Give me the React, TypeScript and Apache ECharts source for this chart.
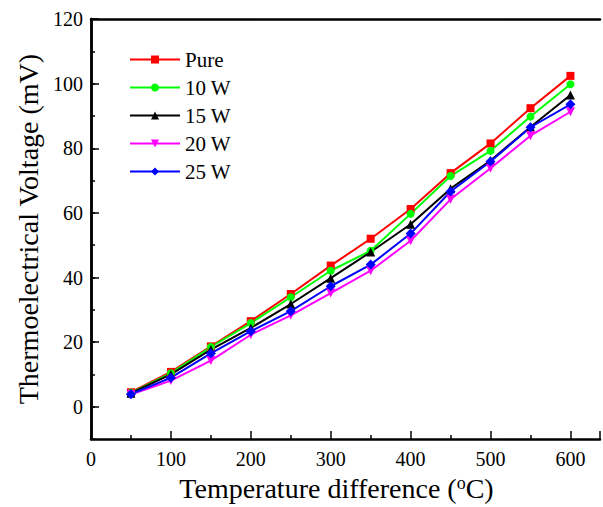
import React, { useEffect, useRef } from "react";
import * as echarts from "echarts";

const temps = [50, 100, 150, 200, 250, 300, 350, 400, 450, 500, 550, 600];
const pure = [4.5, 10.8, 18.7, 26.5, 34.9, 43.7, 52.0, 61.2, 72.3, 81.5, 92.4, 102.4];
const w10 = [4.3, 10.4, 18.5, 25.9, 33.9, 42.1, 48.3, 59.7, 71.4, 79.2, 89.8, 99.8];
const w15 = [4.2, 10.0, 17.7, 24.4, 31.8, 39.8, 47.9, 56.5, 67.5, 76.2, 86.6, 96.5];
const w20 = [3.8, 8.1, 14.3, 22.3, 28.3, 35.2, 42.1, 51.4, 64.2, 73.8, 83.9, 91.3];
const w25 = [3.9, 9.0, 16.5, 23.4, 29.6, 37.3, 44.0, 53.6, 66.6, 75.9, 86.5, 93.6];
const seriesNames = ["Pure", "10 W", "15 W", "20 W", "25 W"];
const yMajorTicks = [0, 20, 40, 60, 80, 100, 120];

const FONT = "'Liberation Serif', 'Times New Roman', serif";

export default function App() {
  const ref = useRef<HTMLDivElement>(null);
  useEffect(() => {
    document.body.style.margin = "0";
    const chart = echarts.init(ref.current!, null, { renderer: "svg" });
    const allData = [pure, w10, w15, w20, w25];
    const colors = ["#FF0000", "#00FF00", "#000000", "#FF00FF", "#0000FF"];
    const symbols = [
      "rect",
      "circle",
      "triangle",
      "path://M0,0 L10,0 L5,9 Z",
      "diamond",
    ];
    const sizes = [8, 8, 9, 9, 10];
    const series = allData.map((d, i) => ({
      name: seriesNames[i],
      type: "line",
      data: temps.map((t, j) => [t, d[j]]),
      symbol: symbols[i],
      symbolSize: sizes[i],
      lineStyle: { color: colors[i], width: 2 },
      itemStyle: { color: colors[i] },
      color: colors[i],
      xAxisIndex: 0,
      yAxisIndex: 0,
    }));
    const axisLineStyle = { color: "#000", width: 2.5 };
    chart.setOption({
      animation: false,
      backgroundColor: "#fff",
      textStyle: { fontFamily: FONT },
      grid: { left: 91, right: 0, top: 19, bottom: 66 },
      legend: {
        orient: "vertical",
        left: 124,
        top: 44,
        itemWidth: 50,
        itemHeight: 10,
        itemGap: 7,
        data: seriesNames,
        textStyle: { fontFamily: FONT, fontSize: 21, color: "#000" },
      },
      xAxis: [
        {
          type: "value",
          min: 0,
          max: 637,
          interval: 100,
          position: "bottom",
          name: "Temperature difference ({sup|o}C)",
          nameLocation: "middle",
          nameGap: 33,
          nameTextStyle: {
            fontFamily: FONT,
            fontSize: 28,
            color: "#000",
            padding: [0, 18, 0, 0],
            rich: {
              sup: {
                fontFamily: FONT,
                fontSize: 18,
                color: "#000",
                verticalAlign: "bottom",
                padding: [0, 0, 10, 0],
              },
            },
          },
          axisLine: { show: true, onZero: false, lineStyle: axisLineStyle },
          axisTick: { show: true, inside: true, length: 8, lineStyle: { color: "#000", width: 1.5 } },
          minorTick: { show: true, splitNumber: 2, length: 4, lineStyle: { color: "#000", width: 1.5 } },
          axisLabel: {
            fontFamily: FONT,
            fontSize: 20,
            color: "#000",
            margin: 10,
            formatter: (v: number) => (v % 100 === 0 ? String(v) : ""),
          },
          splitLine: { show: false },
        },
        {
          type: "value",
          min: 0,
          max: 637,
          position: "top",
          axisLine: { show: true, onZero: false, lineStyle: axisLineStyle },
          axisTick: { show: false },
          axisLabel: { show: false },
          splitLine: { show: false },
        },
      ],
      yAxis: [
        {
          type: "value",
          min: -10,
          max: 120,
          interval: 10,
          position: "left",
          axisLine: { show: true, onZero: false, lineStyle: axisLineStyle },
          axisTick: { show: true, inside: true, length: 4, lineStyle: { color: "#000", width: 1.5 } },
          axisLabel: { show: false },
          splitLine: { show: false },
        },
        {
          type: "value",
          min: -10,
          max: 120,
          position: "left",
          name: "Thermoelectrical Voltage (mV)",
          nameLocation: "middle",
          nameGap: 46,
          nameTextStyle: { fontFamily: FONT, fontSize: 28, color: "#000" },
          axisLine: { show: true, onZero: false, lineStyle: axisLineStyle },
          axisTick: {
            show: true,
            inside: true,
            length: 8,
            customValues: yMajorTicks,
            lineStyle: { color: "#000", width: 1.5 },
          },
          axisLabel: {
            fontFamily: FONT,
            fontSize: 20,
            color: "#000",
            margin: 8,
            customValues: yMajorTicks,
          },
          splitLine: { show: false },
        },
      ],
      series,
    });
    return () => chart.dispose();
  }, []);
  return (
    <div
      ref={ref}
      style={{ position: "fixed", left: 0, top: 0, width: 603, height: 507 }}
    />
  );
}
